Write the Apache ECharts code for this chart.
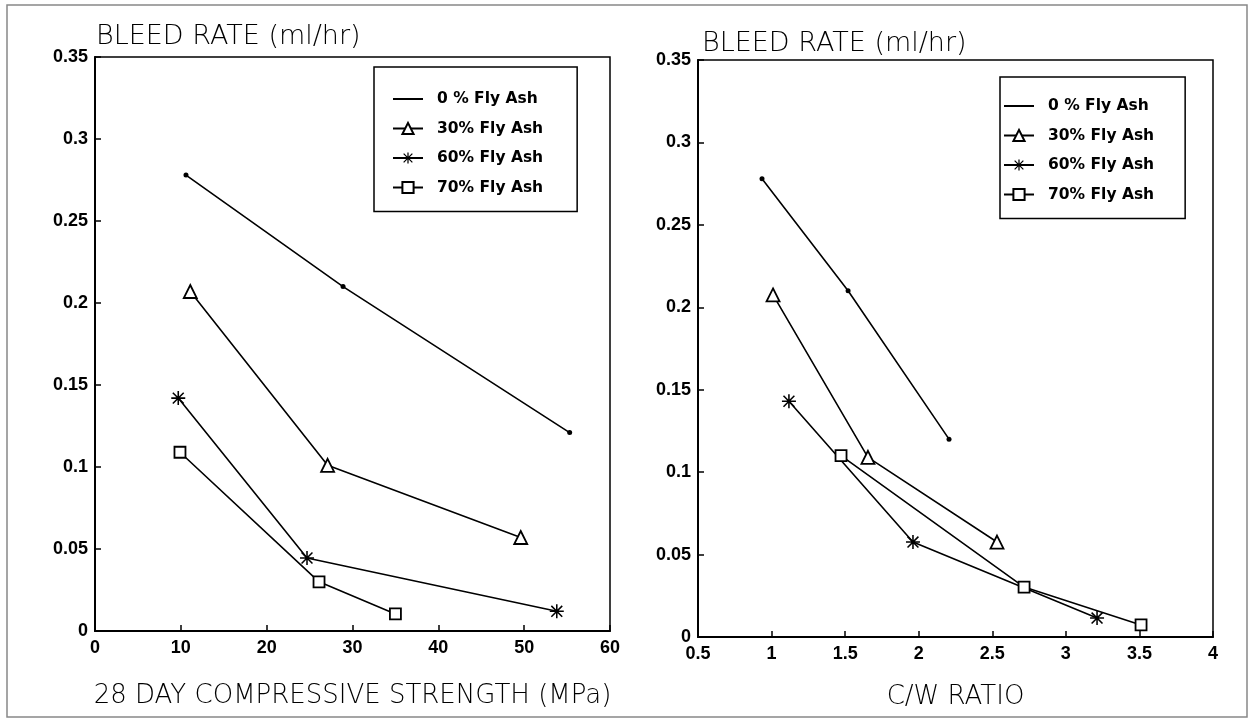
<!DOCTYPE html>
<html>
<head>
<meta charset="utf-8">
<script src="https://cdn.jsdelivr.net/npm/echarts/dist/echarts.min.js"></script>
<style>
  html, body { margin: 0; padding: 0; background: #fff; }
  #chart { width: 1252px; height: 722px; }
</style>
</head>
<body>
<div id="chart"></div>
<script>
// series names (shared by both panels)
const seriesNames = ["0 % Fly Ash", "30% Fly Ash", "60% Fly Ash", "70% Fly Ash"];

// left panel: bleed rate vs 28 day compressive strength (MPa)
const strength0 = [10.6, 28.9, 55.3];
const bleed0s = [0.278, 0.210, 0.121];
const strength30 = [11.1, 27.1, 49.6];
const bleed30s = [0.207, 0.101, 0.057];
const strength60 = [9.7, 24.7, 53.8];
const bleed60s = [0.142, 0.0445, 0.012];
const strength70 = [9.9, 26.1, 35.0];
const bleed70s = [0.109, 0.030, 0.0104];

// right panel: bleed rate vs C/W ratio
const cw0 = [0.935, 1.52, 2.206];
const bleed0c = [0.278, 0.210, 0.120];
const cw30 = [1.01, 1.655, 2.532];
const bleed30c = [0.2075, 0.109, 0.0576];
const cw60 = [1.118, 1.961, 3.212];
const bleed60c = [0.143, 0.0576, 0.0115];
const cw70 = [1.472, 2.716, 3.511];
const bleed70c = [0.110, 0.0303, 0.0073];

const yTitle = "BLEED RATE (ml/hr)";
const xTitleLeft = "28 DAY COMPRESSIVE STRENGTH (MPa)";
const xTitleRight = "C/W RATIO";

const pair = (xs, ys) => xs.map((x, i) => [x, ys[i]]);

// asterisk built from four thin bars
const starPath = "path://M9,1 L11,1 L11,19 L9,19 Z M1,9 L19,9 L19,11 L1,11 Z " +
  "M3.7,2.3 L17.7,16.3 L16.3,17.7 L2.3,3.7 Z M16.3,2.3 L17.7,3.7 L3.7,17.7 L2.3,16.3 Z";

const markers = [
  { symbol: "circle", symbolSize: 5, itemStyle: { color: "#000" } },
  { symbol: "triangle", symbolSize: 13, itemStyle: { color: "#fff", borderColor: "#000", borderWidth: 1.8 } },
  { symbol: starPath, symbolSize: 14, itemStyle: { color: "#000" } },
  { symbol: "rect", symbolSize: 11, itemStyle: { color: "#fff", borderColor: "#000", borderWidth: 1.8 } },
];

const makeSeries = (idx, data, panel) => ({
  name: seriesNames[idx],
  type: "line",
  xAxisIndex: panel,
  yAxisIndex: panel,
  data: data,
  symbol: markers[idx].symbol,
  symbolSize: markers[idx].symbolSize,
  showAllSymbol: true,
  itemStyle: markers[idx].itemStyle,
  lineStyle: { color: "#000", width: 1.6 },
  z: idx === 0 ? 2 : 3,
  animation: false,
});

const tickFont = { color: "#000", fontSize: 18, fontWeight: "bold", fontFamily: "Liberation Sans" };
const nameFont = { color: "#000", fontSize: 26, fontFamily: "DejaVu Sans", fontWeight: 300 };

const yAxisBase = (grid) => ({
  type: "value",
  gridIndex: grid,
  min: 0,
  max: 0.35,
  interval: 0.05,
  axisLine: { show: true, lineStyle: { color: "#000", width: 2 } },
  axisTick: { show: true, inside: true, length: 6, lineStyle: { color: "#000", width: 1.5 } },
  axisLabel: Object.assign({ margin: 7 }, tickFont),
  splitLine: { show: false },
});

// legend entries: the 0 % entry shows only a line
const legendData = seriesNames.map((n, i) =>
  i === 0 ? { name: n, itemStyle: { color: "rgba(0,0,0,0)", borderWidth: 0 } } : { name: n }
);

const legendBase = (left, top, pad) => ({
  orient: "vertical",
  left: left,
  top: top,
  data: legendData,
  itemWidth: 30,
  itemHeight: 14,
  itemGap: 13.5,
  padding: pad,
  borderColor: "#000",
  borderWidth: 1.5,
  backgroundColor: "#fff",
  selectedMode: false,
  textStyle: { color: "#000", fontSize: 15.5, fontWeight: "bold", fontFamily: "DejaVu Sans", padding: [0, 0, 0, 9] },
});

const myChart = echarts.init(document.getElementById("chart"));
myChart.setOption({
  backgroundColor: "#fff",
  animation: false,
  title: [
    { text: yTitle, left: 91, top: 18, textStyle: { color: "#000", fontSize: 27, fontFamily: "DejaVu Sans", fontWeight: 300 } },
    { text: yTitle, left: 697, top: 25, textStyle: { color: "#000", fontSize: 27, fontFamily: "DejaVu Sans", fontWeight: 300 } },
  ],
  graphic: [
    {
      type: "rect",
      shape: { x: 7, y: 5, width: 1240, height: 712 },
      style: { fill: "none", stroke: "#888", lineWidth: 1.5 },
      silent: true,
    },
  ],
  legend: [legendBase(374, 67, [24, 34, 16, 18]), legendBase(1000, 77, [21, 31, 16, 3])],
  grid: [
    { left: 95, top: 57, width: 515, height: 574, show: true, borderColor: "#000", borderWidth: 1.5 },
    { left: 698, top: 60, width: 515, height: 577, show: true, borderColor: "#000", borderWidth: 1.5 },
  ],
  xAxis: [
    {
      type: "value",
      gridIndex: 0,
      min: 0,
      max: 60,
      interval: 10,
      name: xTitleLeft,
      nameLocation: "middle",
      nameGap: 52,
      nameTextStyle: nameFont,
      axisLine: { show: true, lineStyle: { color: "#000", width: 2 } },
      axisTick: { show: true, inside: true, length: 6, lineStyle: { color: "#000", width: 1.5 } },
      axisLabel: Object.assign({ margin: 8 }, tickFont),
      splitLine: { show: false },
    },
    {
      type: "value",
      gridIndex: 1,
      min: 0.5,
      max: 4,
      interval: 0.5,
      name: xTitleRight,
      nameLocation: "middle",
      nameGap: 47,
      nameTextStyle: nameFont,
      axisLine: { show: true, lineStyle: { color: "#000", width: 2 } },
      axisTick: { show: true, inside: true, length: 6, lineStyle: { color: "#000", width: 1.5 } },
      axisLabel: Object.assign({ margin: 8 }, tickFont),
      splitLine: { show: false },
    },
  ],
  yAxis: [yAxisBase(0), yAxisBase(1)],
  series: [
    makeSeries(0, pair(strength0, bleed0s), 0),
    makeSeries(1, pair(strength30, bleed30s), 0),
    makeSeries(2, pair(strength60, bleed60s), 0),
    makeSeries(3, pair(strength70, bleed70s), 0),
    makeSeries(0, pair(cw0, bleed0c), 1),
    makeSeries(1, pair(cw30, bleed30c), 1),
    makeSeries(2, pair(cw60, bleed60c), 1),
    makeSeries(3, pair(cw70, bleed70c), 1),
  ],
});
</script>
</body>
</html>
